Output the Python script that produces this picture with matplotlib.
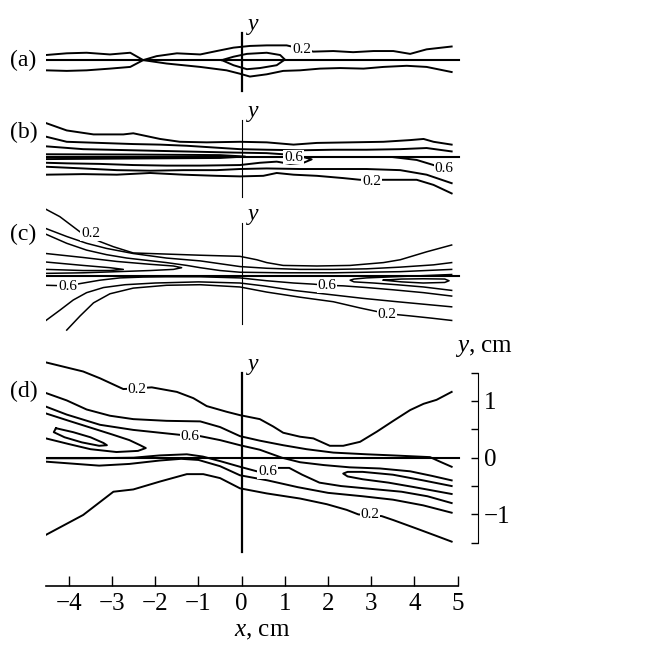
import numpy as np
import matplotlib
matplotlib.use("Agg")
from matplotlib import pyplot as plt

plt.rcParams['font.family'] = ['Liberation Serif', 'DejaVu Serif']
plt.rcParams['mathtext.fontset'] = 'custom'
plt.rcParams['mathtext.rm'] = 'Liberation Serif'
plt.rcParams['mathtext.it'] = 'Liberation Serif:italic'

# contour lines, x and y in cm (y relative to each panel's axis)
# panel (a)
a_line1 = [(-4.53,0.09),(-4.05,0.12),(-3.59,0.13),(-3.05,0.10),(-2.58,0.13),(-2.28,0.0),(-1.74,-0.06),
           (-0.96,-0.12),(-0.35,-0.18),(-0.04,-0.24),(0.19,-0.29),(0.58,-0.25),(0.96,-0.19),(1.35,-0.18),
           (1.81,-0.15),(2.28,-0.14),(2.82,-0.15),(3.28,-0.12),(3.82,-0.10),(4.28,-0.12),(4.86,-0.21)]
a_line2 = [(-4.53,-0.18),(-4.05,-0.19),(-3.59,-0.18),(-3.05,-0.15),(-2.58,-0.12),(-2.28,0.0),(-1.97,0.07),
           (-1.50,0.12),(-0.96,0.10),(-0.58,0.16),(-0.19,0.22),(0.19,0.25),(0.58,0.26),(1.04,0.26),(1.66,0.15),
           (2.12,0.16),(2.58,0.14),(3.05,0.16),(3.51,0.16),(3.90,0.11),(4.28,0.19),(4.86,0.24)]
a_loop = [(-0.46,0.0),(-0.19,0.06),(0.12,0.11),(0.58,0.13),(0.89,0.09),(1.00,0.01),(0.81,-0.09),
          (0.42,-0.14),(0.12,-0.16),(-0.19,-0.09),(-0.46,0.0)]
a_labels = [(1.39, 0.19, '0.2')]

# panel (b)
b_top = [(-4.53,0.59),(-4.05,0.46),(-3.43,0.39),(-2.74,0.39),(-2.51,0.41),(-2.20,0.36),(-1.89,0.31),
         (-1.43,0.26),(-0.81,0.25),(-0.04,0.26),(0.58,0.25),(1.20,0.21),(1.74,0.24),(2.51,0.25),(3.28,0.26),
         (3.90,0.29),(4.21,0.31),(4.44,0.26),(4.86,0.21)]
b_line2 = [(-4.53,0.35),(-4.05,0.26),(-3.28,0.24),(-2.51,0.22),(-1.89,0.21),(-1.27,0.19),(-0.66,0.16),
           (-0.04,0.13),(0.58,0.12),(1.35,0.11),(2.12,0.12),(2.89,0.12),(3.67,0.13),(4.28,0.15),(4.86,0.09)]
b_tongue = [(-4.53,0.18),(-3.67,0.13),(-2.51,0.11),(-1.35,0.09),(-0.19,0.07),(0.58,0.06),(0.96,0.04),
            (1.43,-0.01),(1.62,-0.05),(1.43,-0.11),(1.12,-0.13),(0.81,-0.09),(0.42,-0.11),(-0.04,-0.15),
            (-0.96,-0.16),(-1.74,-0.16),(-2.51,-0.15),(-3.28,-0.13),(-4.05,-0.12),(-4.53,-0.11)]
b_core = [(-4.53,0.04),(-2.5,0.035),(-0.5,0.025),(0.08,0.0),(-0.5,-0.025),(-2.5,-0.035),(-4.53,-0.045)]
b_line5 = [(-4.53,-0.18),(-3.67,-0.21),(-2.89,-0.24),(-2.12,-0.25),(-1.35,-0.24),(-0.58,-0.24),(-0.04,-0.22),
           (0.58,-0.21),(1.35,-0.22),(2.12,-0.22),(2.89,-0.22),(3.67,-0.24),(4.28,-0.32),(4.86,-0.47)]
b_bottom = [(-4.53,-0.32),(-3.67,-0.31),(-2.89,-0.32),(-2.12,-0.29),(-1.35,-0.32),(-0.58,-0.34),(-0.04,-0.35),
            (0.50,-0.34),(0.81,-0.29),(1.20,-0.32),(1.74,-0.34),(2.35,-0.38),(2.74,-0.41),(3.28,-0.41),
            (4.05,-0.41),(4.44,-0.50),(4.86,-0.65)]
b_right = [(3.5,-0.01),(4.05,-0.06),(4.44,-0.15),(4.67,-0.22),(4.86,-0.29)]
b_labels = [(1.20, -0.01, '0.6'), (4.69, -0.21, '0.6'), (3.01, -0.44, '0.2')]

# panel (c)
c_top = [(-4.53,1.18),(-4.21,1.05),(-3.74,0.78),(-3.28,0.61),(-2.97,0.52),(-2.51,0.41),(-1.74,0.39),
         (-0.96,0.37),(-0.04,0.35),(0.35,0.29),(0.58,0.24),(0.96,0.19),(1.74,0.18),(2.51,0.19),(3.28,0.24),
         (3.67,0.29),(4.28,0.43),(4.86,0.55)]
c_line2 = [(-4.53,0.84),(-4.05,0.70),(-3.59,0.58),(-3.13,0.49),(-2.51,0.40),(-1.74,0.32),(-0.96,0.27),
           (-0.04,0.17),(0.58,0.14),(1.35,0.12),(2.12,0.12),(2.89,0.13),(3.67,0.16),(4.44,0.20),(4.86,0.24)]
c_line3 = [(-4.53,0.74),(-4.05,0.58),(-3.59,0.46),(-3.13,0.38),(-2.66,0.32),(-2.20,0.28),(-1.74,0.24),
           (-1.27,0.19),(-0.96,0.15),(-0.50,0.10),(-0.04,0.07),(0.96,0.06),(2.12,0.06),(2.89,0.07),
           (3.67,0.08),(4.86,0.12)]
c_tongue1 = [(-4.53,0.40),(-3.67,0.33),(-2.89,0.26),(-2.12,0.21),(-1.58,0.18),(-1.39,0.15),(-1.58,0.12),
             (-2.12,0.10),(-2.89,0.08),(-3.67,0.06),(-4.53,0.05)]
c_tongue2 = [(-4.53,0.25),(-3.67,0.19),(-3.05,0.15),(-2.74,0.12),(-3.05,0.10),(-3.67,0.10),(-4.53,0.12)]
c_low06 = [(-4.53,-0.16),(-4.03,-0.17),(-3.74,-0.13),(-3.28,-0.07),(-2.82,-0.03),(-2.28,-0.015),(-1.74,-0.01),
           (-0.96,-0.01),(-0.04,-0.03),(0.58,-0.08),(1.20,-0.12),(1.66,-0.14),(1.97,-0.16),(2.35,-0.17),
           (2.89,-0.20),(3.51,-0.24),(4.21,-0.29),(4.86,-0.35)]
c_tongue3 = [(4.86,0.03),(4.21,0.01),(3.51,-0.01),(2.89,-0.03),(2.60,-0.05),(2.51,-0.07),(2.60,-0.10),
             (3.05,-0.12),(3.59,-0.15),(4.21,-0.19),(4.86,-0.25)]
c_loop = [(3.28,-0.07),(3.70,-0.05),(4.20,-0.045),(4.70,-0.05),(4.80,-0.08),(4.70,-0.11),(4.20,-0.12),
          (3.70,-0.10),(3.28,-0.07)]
c_low04 = [(-4.53,-0.78),(-4.21,-0.60),(-3.90,-0.42),(-3.59,-0.29),(-3.20,-0.20),(-2.70,-0.15),(-2.0,-0.12),
           (-1.0,-0.10),(-0.04,-0.12),(0.5,-0.17),(1.2,-0.25),(2.0,-0.32),(2.8,-0.39),(3.6,-0.45),(4.3,-0.50),
           (4.86,-0.54)]
c_low02 = [(-4.05,-0.95),(-3.74,-0.70),(-3.43,-0.47),(-3.05,-0.31),(-2.51,-0.21),(-1.74,-0.16),(-0.96,-0.15),
           (-0.04,-0.19),(0.58,-0.28),(1.35,-0.37),(2.12,-0.45),(2.74,-0.56),(3.36,-0.66),(3.90,-0.70),
           (4.40,-0.74),(4.86,-0.78)]
c_labels = [(-3.50, 0.75, '0.2'), (-4.03, -0.18, '0.6'), (1.97, -0.16, '0.6'), (3.36, -0.67, '0.2')]

# panel (d)
d_top = [(-4.53,1.68),(-3.67,1.52),(-3.28,1.40),(-2.74,1.21),(-2.08,1.24),(-1.50,1.16),(-1.12,1.05),
         (-0.81,0.91),(-0.35,0.81),(-0.04,0.75),(0.42,0.68),(0.73,0.55),(0.96,0.44),(1.35,0.37),(1.66,0.34),
         (2.04,0.21),(2.35,0.21),(2.74,0.28),(3.13,0.46),(3.51,0.65),(3.90,0.84),(4.21,0.95),(4.51,1.02),
         (4.86,1.16)]
d_up04 = [(-4.53,1.14),(-4.05,1.01),(-3.59,0.85),(-3.05,0.74),(-2.51,0.68),(-1.74,0.65),(-0.96,0.64),
          (-0.50,0.54),(-0.04,0.38),(0.42,0.30),(0.96,0.22),(1.50,0.15),(2.12,0.09),(2.89,0.06),(3.51,0.04),
          (4.36,0.01),(4.59,-0.07),(4.86,-0.16)]
d_up06 = [(-4.53,0.90),(-4.05,0.76),(-3.28,0.58),(-2.51,0.49),(-1.89,0.44),(-1.39,0.40),(-0.96,0.38),
          (-0.50,0.31),(-0.04,0.22),(0.42,0.14),(0.93,0.0),(1.35,-0.08),(1.90,-0.13),(2.50,-0.17),
          (3.20,-0.19),(3.90,-0.24),(4.40,-0.32),(4.86,-0.40)]
d_tongue1 = [(-4.53,0.78),(-4.0,0.65),(-3.5,0.53),(-3.0,0.41),(-2.6,0.31),(-2.35,0.22),(-2.22,0.17),
             (-2.4,0.12),(-2.9,0.10),(-3.5,0.15),(-4.0,0.24),(-4.53,0.34)]
d_loop = [(-4.30,0.52),(-3.90,0.45),(-3.50,0.36),(-3.20,0.26),(-3.12,0.22),(-3.30,0.21),(-3.70,0.27),
          (-4.10,0.36),(-4.35,0.45),(-4.30,0.52)]
d_low06 = [(-4.53,-0.01),(-3.5,-0.01),(-2.5,0.0),(-1.9,0.04),(-1.27,0.06),(-0.9,0.02),(-0.5,-0.06),
           (-0.04,-0.16),(0.35,-0.24),(0.6,-0.24),(0.85,-0.18),(1.1,-0.18),(1.4,-0.30),(1.8,-0.44),
           (2.3,-0.50),(3.0,-0.55),(3.7,-0.60),(4.3,-0.68),(4.86,-0.80)]
d_tongue2 = [(4.86,-0.50),(4.2,-0.40),(3.5,-0.30),(2.8,-0.25),(2.45,-0.25),(2.35,-0.28),(2.45,-0.33),
             (2.8,-0.38),(3.4,-0.44),(4.0,-0.52),(4.86,-0.64)]
d_low04 = [(-4.53,-0.07),(-4.0,-0.10),(-3.3,-0.14),(-2.6,-0.11),(-1.9,-0.05),(-1.4,-0.02),(-1.0,-0.04),
           (-0.5,-0.15),(-0.04,-0.31),(0.6,-0.40),(1.3,-0.52),(2.0,-0.62),(2.8,-0.68),(3.5,-0.74),
           (4.2,-0.84),(4.86,-0.97)]
d_bottom = [(-4.53,-1.36),(-3.67,-1.01),(-2.97,-0.60),(-2.51,-0.56),(-1.89,-0.42),(-1.27,-0.29),(-0.89,-0.29),
            (-0.50,-0.36),(-0.04,-0.54),(0.58,-0.63),(1.35,-0.72),(1.97,-0.82),(2.43,-0.92),(2.70,-1.0),
            (3.24,-1.03),(3.51,-1.10),(4.05,-1.25),(4.51,-1.38),(4.86,-1.48)]
d_labels = [(-2.42, 1.21, '0.2'), (-1.20, 0.38, '0.6'), (0.60, -0.25, '0.6'), (2.97, -1.01, '0.2')]

# panel layout: offset of each panel axis (cm), y-axis extent, letter
panels = [
    ('(a)', 7.01, [a_line1, a_line2, a_loop], a_labels, (0.47, -0.54), 1.6, 1.4),
    ('(b)', 5.31, [b_top, b_line2, b_tongue, b_core, b_line5, b_bottom, b_right], b_labels, (0.64, -0.71), 0.8, 1.4),
    ('(c)', 3.20, [c_top, c_line2, c_line3, c_tongue1, c_tongue2, c_low06, c_tongue3, c_loop, c_low04, c_low02],
     c_labels, (0.93, -0.85), 0.8, 1.1),
    ('(d)', 0.0, [d_top, d_up04, d_up06, d_tongue1, d_loop, d_low06, d_tongue2, d_low04, d_bottom],
     d_labels, (1.49, -1.67), 1.6, 1.4),
]
letter_dy = [0.0, 0.42, 0.73, 1.16]
x_ticks = [-4, -3, -2, -1, 0, 1, 2, 3, 4, 5]

fig = plt.figure(figsize=(6.5, 6.45), dpi=100)
ax = fig.add_axes([46/650, 59.3/645, 432/650, 585.7/645])
ax.set_xlim(-4.53, 5.47)
ax.set_ylim(-2.257, 8.07)

for (letter, off, lines, labels, vext, vlw, lw), ldy in zip(panels, letter_dy):
    for pts in lines:
        p = np.array(pts)
        ax.plot(p[:, 0], p[:, 1] + off, color='black', lw=lw, solid_joinstyle='round')
    for lx, ly, txt in labels:
        ax.text(lx, ly + off, txt, ha='center', va='center', fontsize=11, zorder=5,
                bbox=dict(fc='white', ec='none', pad=0.6))
    ax.plot([-4.53, 5.04], [off, off], color='black', lw=1.5)
    ax.plot([0, 0], [vext[1] + off, vext[0] + off], color='black', lw=vlw)
    ax.text(0.1, vext[0] + off + 0.12, '$y$', fontsize=17, ha='left', va='center')
    ax.text(-5.05, off + ldy, letter, fontsize=17, ha='center', va='center', clip_on=False)

for s in ['top', 'left']:
    ax.spines[s].set_visible(False)
ax.spines['bottom'].set_bounds(-4.53, 5.0)
ax.spines['bottom'].set_linewidth(1.2)
ax.spines['right'].set_bounds(-1.5, 1.5)
ax.set_xticks(x_ticks)
ax.set_xticklabels([str(t).replace('-', '\u2212') for t in x_ticks])
ax.set_yticks([-1.5, -1, -0.5, 0, 0.5, 1, 1.5])
ax.set_yticklabels(['', '\u22121', '', '0', '', '1', ''])
ax.yaxis.tick_right()
ax.tick_params(axis='x', direction='in', length=7.5, width=1, labelsize=18, pad=5)
ax.tick_params(axis='y', direction='in', length=5, width=1, labelsize=18, pad=4)
ax.set_xlabel('$x$, cm', fontsize=18, labelpad=4)
ax.text(5.6, 1.93, '$y$, cm', fontsize=18, ha='center', va='center', clip_on=False)

fig.savefig('out.png', dpi=100)
